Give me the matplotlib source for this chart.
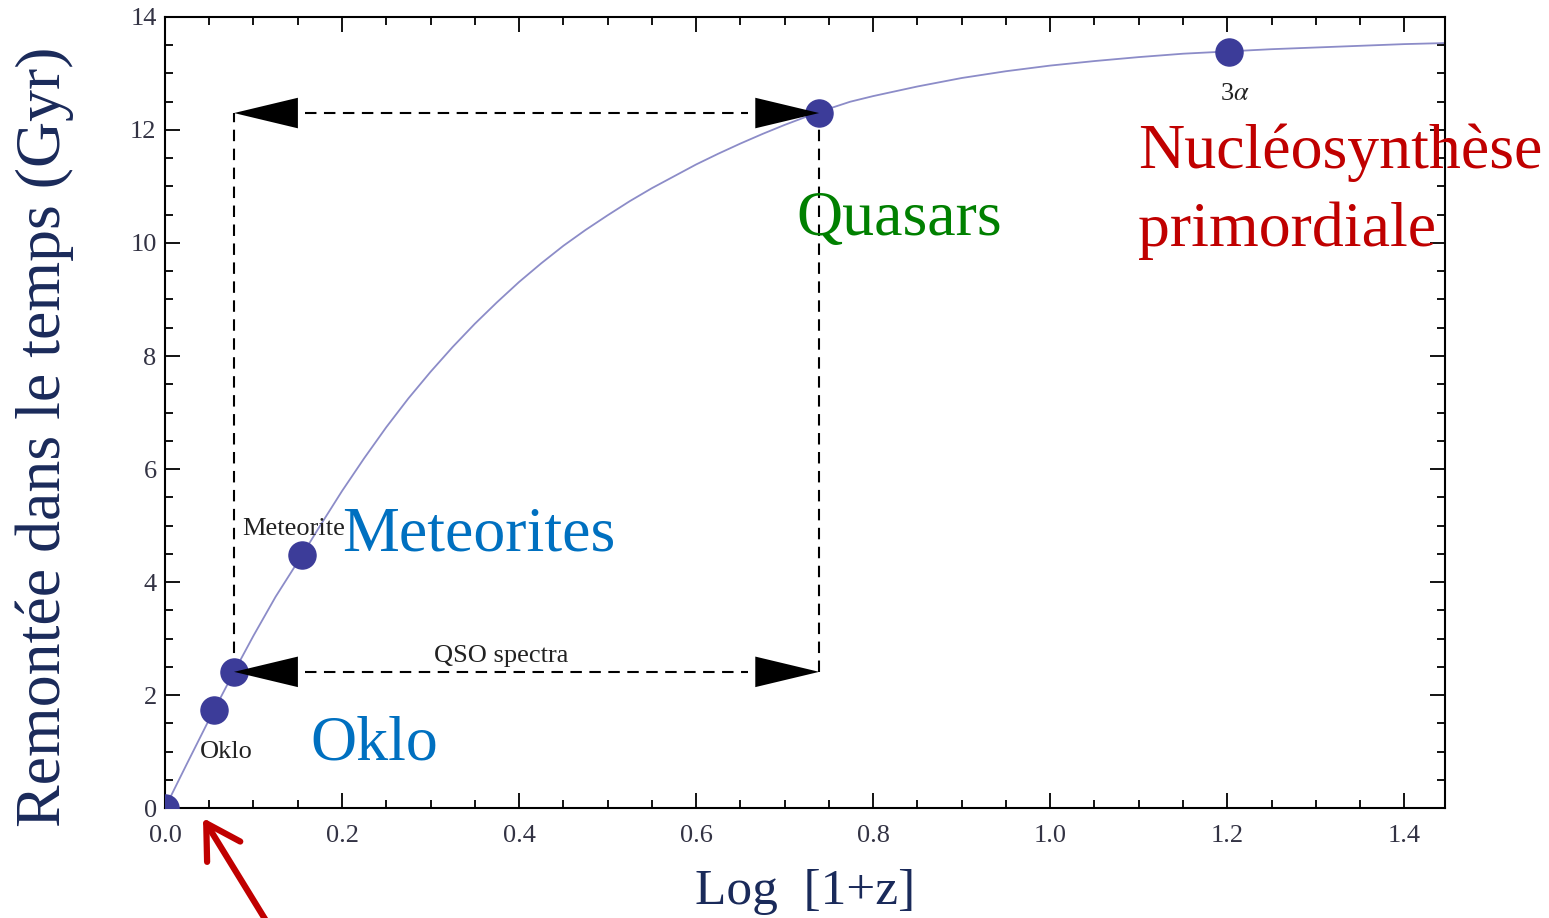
import matplotlib
matplotlib.use("Agg")
import matplotlib.pyplot as plt
from matplotlib.ticker import MultipleLocator, FormatStrFormatter

# ---- data ----
curve_x = [0, 0.025, 0.05, 0.078, 0.1, 0.125, 0.155, 0.175, 0.2, 0.225, 0.25, 0.275,
           0.3, 0.325, 0.35, 0.375, 0.4, 0.425, 0.45, 0.475, 0.5, 0.525, 0.55, 0.575,
           0.6, 0.625, 0.65, 0.675, 0.7, 0.739, 0.774, 0.8, 0.85, 0.9, 0.95, 1.0, 1.05,
           1.1, 1.15, 1.2, 1.25, 1.3, 1.35, 1.4, 1.45]
curve_y = [0, 0.79, 1.57, 2.41, 3.05, 3.74, 4.48, 4.99, 5.61, 6.19, 6.74, 7.25,
           7.72, 8.16, 8.57, 8.95, 9.31, 9.64, 9.95, 10.23, 10.49, 10.74, 10.97, 11.18,
           11.39, 11.58, 11.76, 11.93, 12.09, 12.32, 12.50, 12.60, 12.77, 12.92, 13.04, 13.14, 13.22,
           13.29, 13.35, 13.39, 13.43, 13.46, 13.49, 13.52, 13.54]

point_names = ["today", "Oklo", "QSO low", "Meteorite", "Quasars", "3α"]
point_x = [0.0, 0.055, 0.078, 0.155, 0.739, 1.202]
point_y = [0.0, 1.73, 2.41, 4.48, 12.30, 13.38]

qso_x = [0.078, 0.739]
qso_y = [2.41, 12.30]

SERIF = ["Liberation Serif", "DejaVu Serif"]
plt.rcParams['font.family'] = SERIF
plt.rcParams['mathtext.fontset'] = 'stix'

fig = plt.figure(figsize=(15.49, 9.18), dpi=100)
ax = fig.add_axes([0.1065, 0.1198, 0.8264, 0.8617])

ax.set_xlim(0, 1.446)
ax.set_ylim(0, 14)

ax.plot(curve_x, curve_y, color="#8c8cc8", lw=1.3, zorder=2)
ax.plot(point_x, point_y, 'o', color="#3c3c99", ms=19.5, mec="#3c3c99", zorder=4)

# dashed box
x0, x1 = qso_x
y0, y1 = qso_y
dash = dict(color="black", lw=1.5, dashes=(5.5, 3.6), zorder=3)
ax.plot([x0, x0], [y0, y1], **dash)
ax.plot([x1, x1], [y0, y1], **dash)
ax.plot([x0 + 0.08, x1 - 0.08], [y0, y0], **dash)
ax.plot([x0 + 0.08, x1 - 0.08], [y1, y1], **dash)

hl = 0.072
def head(tip, base):
    ax.annotate('', xy=tip, xytext=base,
                arrowprops=dict(arrowstyle='-|>,head_length=4.6,head_width=1.1',
                                fc='black', ec='black', lw=0, shrinkA=0, shrinkB=0,
                                mutation_scale=10), zorder=5)

for yy in (y0, y1):
    head((x0, yy), (x0 + hl, yy))
    head((x1, yy), (x1 - hl, yy))

# ticks
ax.xaxis.set_major_locator(MultipleLocator(0.2))
ax.xaxis.set_minor_locator(MultipleLocator(0.05))
ax.yaxis.set_major_locator(MultipleLocator(2))
ax.yaxis.set_minor_locator(MultipleLocator(0.5))
ax.xaxis.set_major_formatter(FormatStrFormatter('%.1f'))
ax.yaxis.set_major_formatter(FormatStrFormatter('%d'))
ax.tick_params(which='both', direction='in', top=True, right=True, width=1.3,
               labelsize=19, labelcolor='#333344', color='black')
ax.tick_params(which='major', length=11, pad=6)
ax.tick_params(axis='x', which='major', pad=12)
ax.tick_params(which='minor', length=6)
for s in ax.spines.values():
    s.set_linewidth(1.5)

# small annotations
small = dict(fontsize=19, color='#222222')
ax.text(0.087, 4.84, "Meteorite", ha='left', va='baseline', **small)
ax.text(0.039, 0.88, "Oklo", ha='left', va='baseline', **small)
ax.text(0.38, 2.59, "QSO spectra", ha='center', va='baseline', **small)
ax.text(1.208, 12.53, r"3$\alpha$", ha='center', va='baseline', fontsize=19, color='#222222')

# big coloured labels
ax.text(0.2, 4.55, "Meteorites", color="#0070C0", fontsize=46, ha='left', va='baseline', zorder=6)
ax.text(0.164, 0.85, "Oklo", color="#0070C0", fontsize=46, ha='left', va='baseline', zorder=6)
ax.text(0.713, 10.15, "Quasars", color="#008000", fontsize=46, ha='left', va='baseline', zorder=6)
fig.text(1138/1549, 1 - 168/918, "Nucléosynthèse", color="#C00000", fontsize=46,
         ha='left', va='baseline', zorder=6)
fig.text(1138/1549, 1 - 246/918, "primordiale", color="#C00000", fontsize=46,
         ha='left', va='baseline', zorder=6)

ax.set_xlabel("Log  [1+z]", fontsize=37, color="#1a2a5a", labelpad=16)
fig.text(45/1549, 1 - 437/918, "Remontée dans le temps (Gyr)", fontsize=46, color="#1a2a5a",
         rotation=90, ha='center', va='center')

# red arrow at bottom
fig.patches.append(matplotlib.patches.FancyArrowPatch(
    (270/1549, -0.01), (203/1549, 1 - 818/918), transform=fig.transFigure,
    arrowstyle='->,head_length=1.2,head_width=0.7', mutation_scale=20,
    color="#C00000", lw=4.5, shrinkA=0, shrinkB=0))

fig.savefig("out.png", dpi=100)
